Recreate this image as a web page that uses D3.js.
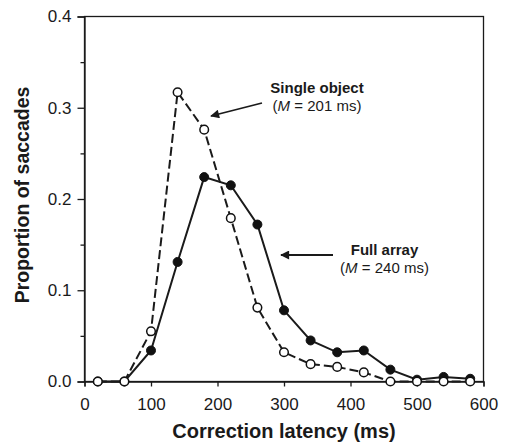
<!DOCTYPE html>
<html>
<head>
<meta charset="utf-8">
<script src="https://cdn.jsdelivr.net/npm/d3@7"></script>
<style>
  body { margin: 0; background: #fff; }
  text { font-family: "Liberation Sans", Arial, sans-serif; fill: #1a1a1a; }
</style>
</head>
<body>
<svg width="505" height="447"></svg>
<script>
var latency = [20, 60, 100, 140, 180, 220, 260, 300, 340, 380, 420, 460, 500, 540, 580];
var fullArray = [0, 0, 0.034, 0.131, 0.224, 0.215, 0.172, 0.078, 0.045, 0.032, 0.034, 0.013, 0.002, 0.005, 0.003];
var singleObject = [0, 0, 0.055, 0.317, 0.276, 0.179, 0.081, 0.032, 0.019, 0.016, 0.010, 0, 0, 0, 0];
var xTicks = [0, 100, 200, 300, 400, 500, 600];
var yTicks = [0, 0.1, 0.2, 0.3, 0.4];
var yMinor = [0.05, 0.15, 0.25, 0.35];

var svg = d3.select("svg");
var plotL = 84.5, plotR = 483.5, plotT = 16.5, plotB = 381.5;

var x = d3.scaleLinear().domain([0, 600]).range([plotL, plotR]);
var y = d3.scaleLinear().domain([0, 0.4]).range([plotB, plotT]);

// frame
svg.append("rect")
    .attr("x", plotL).attr("y", plotT)
    .attr("width", plotR - plotL).attr("height", plotB - plotT)
    .attr("fill", "none").attr("stroke", "#1a1a1a").attr("stroke-width", 1.3);

svg.append("g")
    .attr("transform", "translate(0," + plotB + ")")
    .call(d3.axisBottom(x).tickValues(xTicks).tickFormat(d3.format("d")).tickSize(5).tickPadding(11));

svg.append("g")
    .attr("transform", "translate(" + plotL + ",0)")
    .call(d3.axisLeft(y).tickValues(yTicks).tickFormat(d3.format(".1f")).tickSize(7).tickPadding(6));

svg.append("g")
    .attr("transform", "translate(" + plotL + ",0)")
    .call(d3.axisLeft(y).tickValues(yMinor).tickFormat("").tickSize(4))
    .select(".domain").remove();

svg.selectAll(".domain").attr("stroke", "#1a1a1a").attr("stroke-width", 1.3);
svg.selectAll(".tick line").attr("stroke", "#1a1a1a").attr("stroke-width", 1.3);
svg.selectAll(".tick text").attr("font-size", 17).attr("fill", "#1a1a1a")
    .attr("font-family", "Liberation Sans, Arial, sans-serif");

// axis titles
svg.append("text")
    .attr("x", 284).attr("y", 438)
    .attr("text-anchor", "middle")
    .attr("font-size", 20).attr("font-weight", "bold")
    .text("Correction latency (ms)");

svg.append("text")
    .attr("transform", "translate(29,195) rotate(-90)")
    .attr("text-anchor", "middle")
    .attr("font-size", 19.5).attr("font-weight", "bold")
    .text("Proportion of saccades");

var line = d3.line().x(function(d) { return x(d[0]); }).y(function(d) { return y(d[1]); });

var fullPts = latency.map(function(d, i) { return [d, fullArray[i]]; });
var singlePts = latency.map(function(d, i) { return [d, singleObject[i]]; });

svg.append("path").datum(fullPts)
    .attr("d", line).attr("fill", "none")
    .attr("stroke", "#1a1a1a").attr("stroke-width", 2);

svg.append("g").selectAll("circle")
    .data(fullPts).enter().append("circle")
    .attr("cx", function(d) { return x(d[0]); })
    .attr("cy", function(d) { return y(d[1]); })
    .attr("r", 4.5)
    .attr("fill", "#111").attr("stroke", "#111").attr("stroke-width", 1);

svg.append("path").datum(singlePts)
    .attr("d", line).attr("fill", "none")
    .attr("stroke", "#1a1a1a").attr("stroke-width", 2)
    .attr("stroke-dasharray", "9,4");

svg.append("g").selectAll("circle")
    .data(singlePts).enter().append("circle")
    .attr("cx", function(d) { return x(d[0]); })
    .attr("cy", function(d) { return y(d[1]); })
    .attr("r", 4.3)
    .attr("fill", "#fff").attr("stroke", "#111").attr("stroke-width", 1.5);

// annotations
svg.append("defs").append("marker")
    .attr("id", "head").attr("viewBox", "0 0 10 10")
    .attr("refX", 9).attr("refY", 5)
    .attr("markerWidth", 13).attr("markerHeight", 9)
    .attr("markerUnits", "userSpaceOnUse")
    .attr("orient", "auto")
    .append("path").attr("d", "M0,0 L10,5 L0,10 Z").attr("fill", "#1a1a1a");

function note(tx, ty, label, mean, ax1, ay1, ax2, ay2) {
    svg.append("text").attr("x", tx).attr("y", ty)
        .attr("text-anchor", "middle").attr("font-size", 15).attr("font-weight", "bold")
        .text(label);
    var t = svg.append("text").attr("x", tx).attr("y", ty + 18)
        .attr("text-anchor", "middle").attr("font-size", 15);
    t.append("tspan").text("(");
    t.append("tspan").attr("font-style", "italic").text("M");
    t.append("tspan").text(" = " + mean + " ms)");
    svg.append("line")
        .attr("x1", ax1).attr("y1", ay1).attr("x2", ax2).attr("y2", ay2)
        .attr("stroke", "#1a1a1a").attr("stroke-width", 1.8)
        .attr("marker-end", "url(#head)");
}

note(317, 93, "Single object", 201, 262, 103, 211, 116);
note(384.5, 255, "Full array", 240, 333, 255, 281, 255);
</script>
</body>
</html>
